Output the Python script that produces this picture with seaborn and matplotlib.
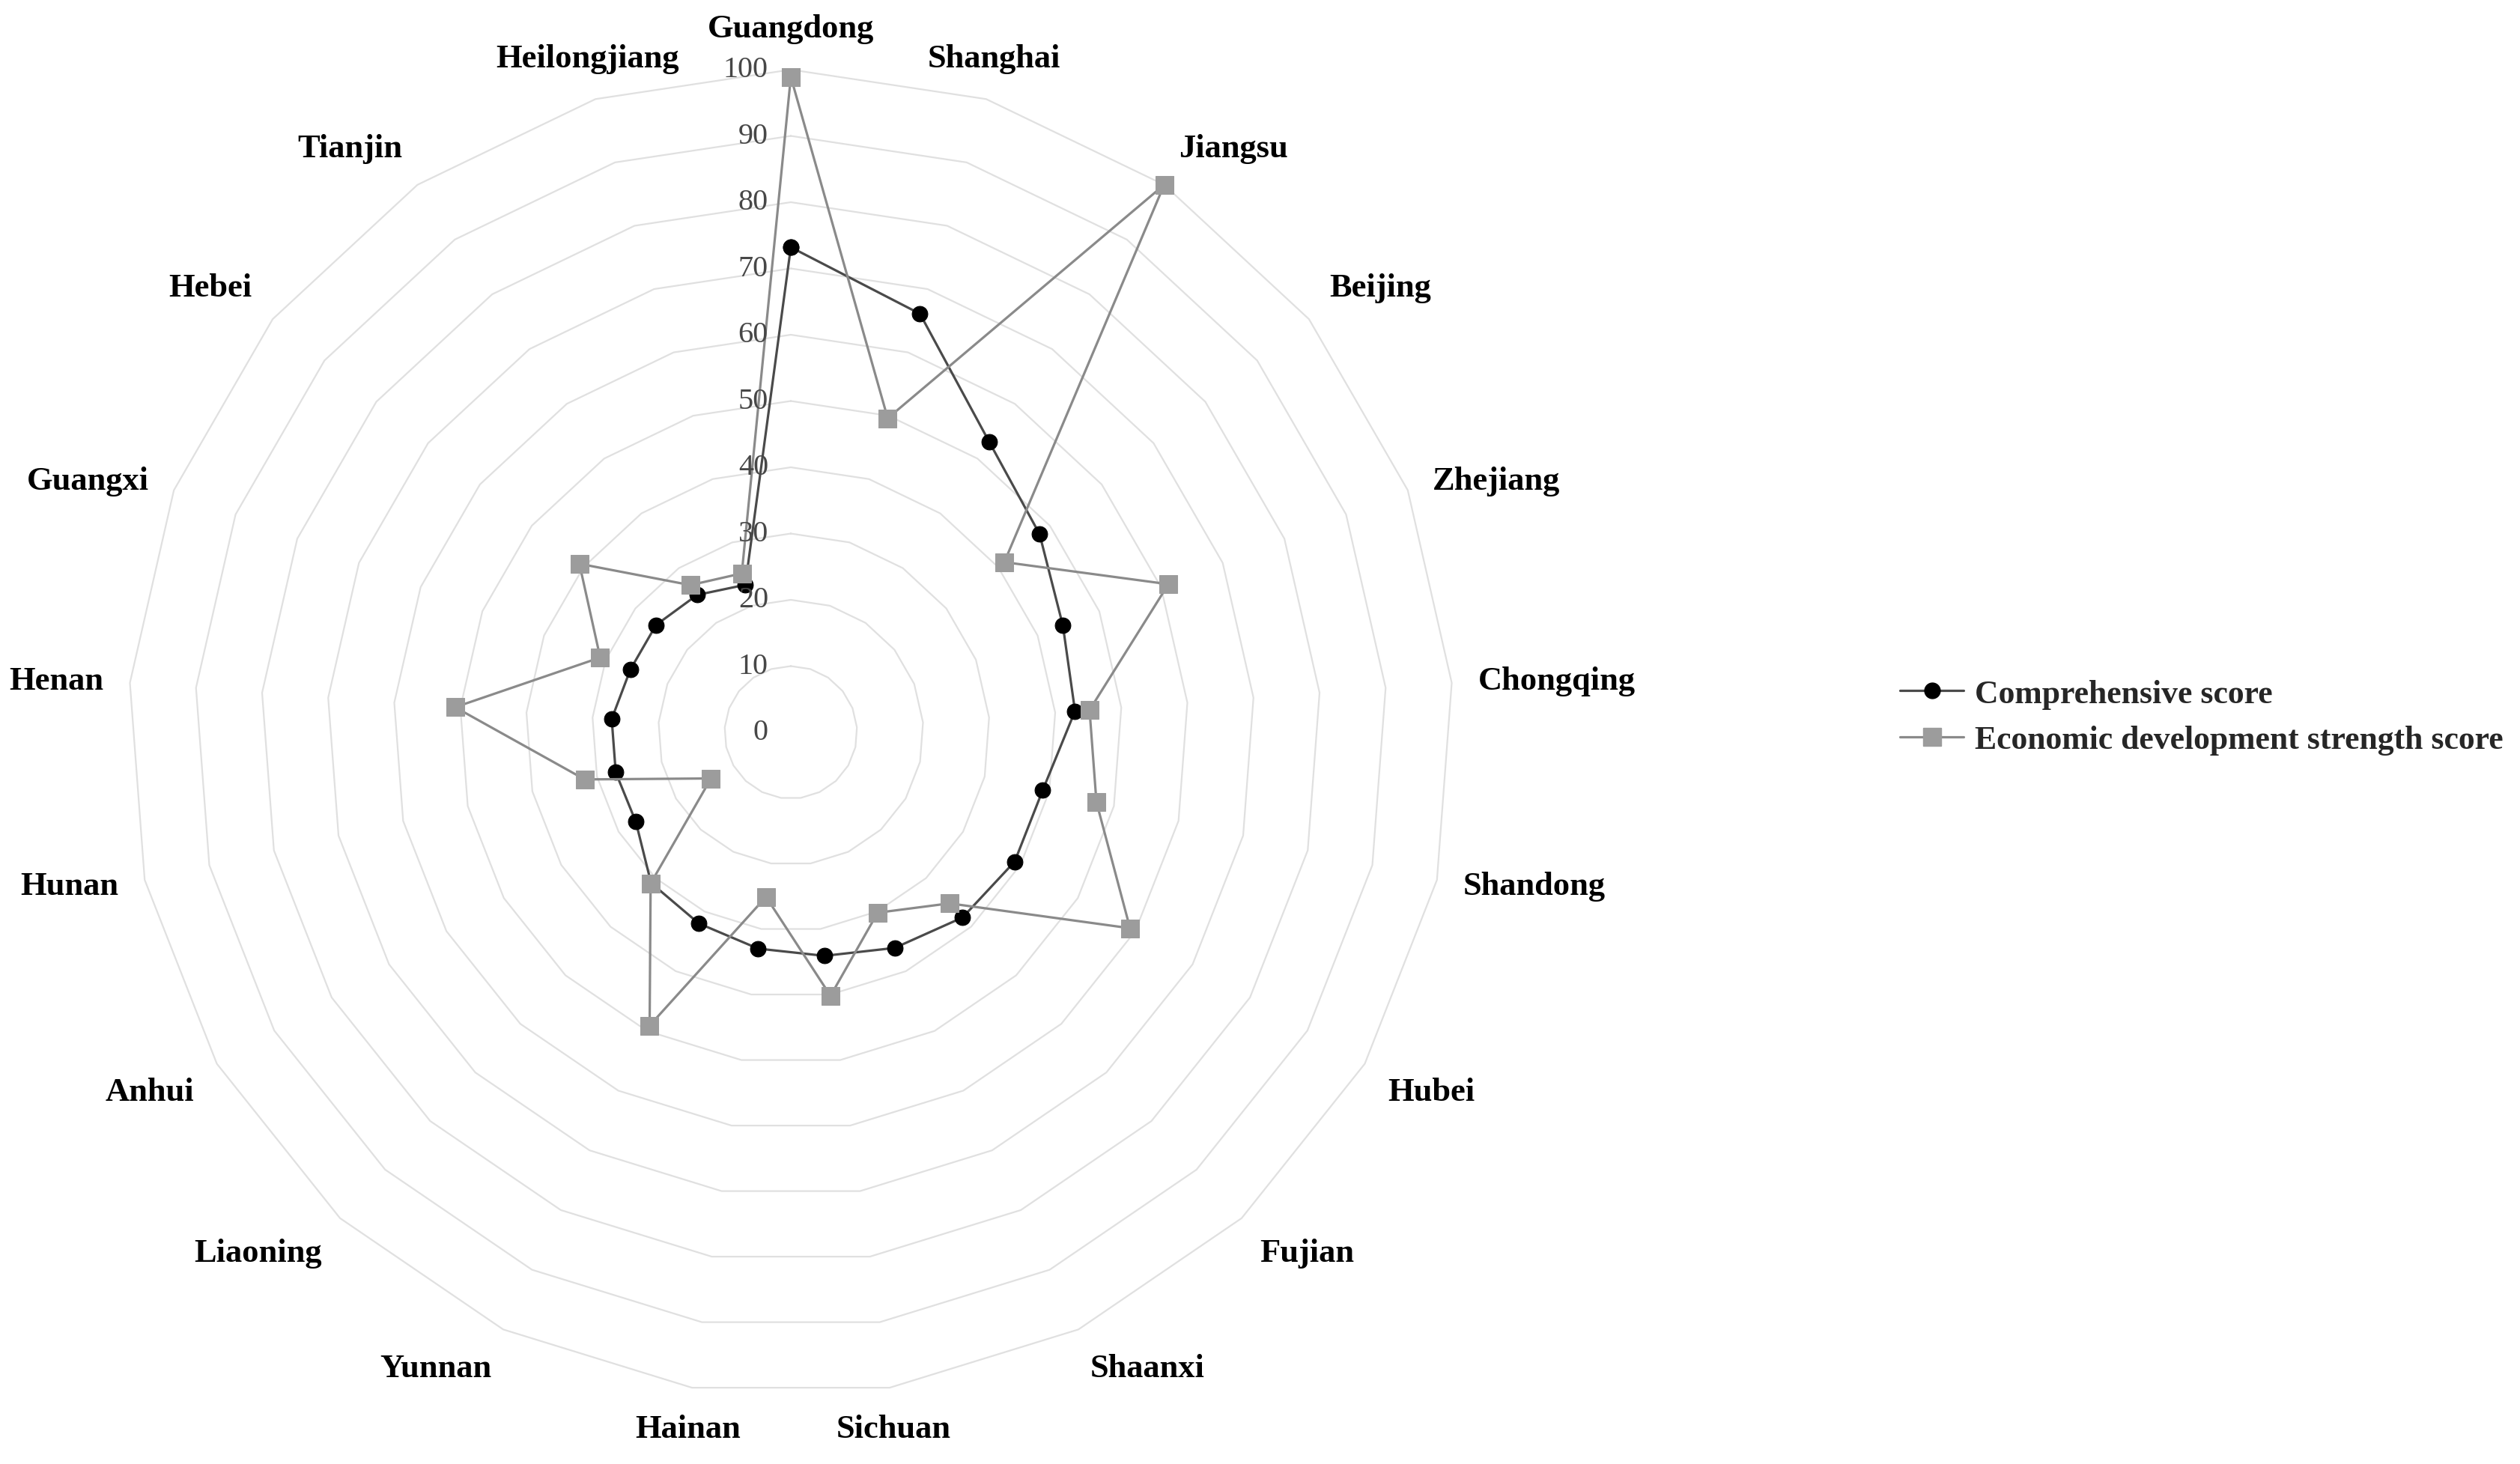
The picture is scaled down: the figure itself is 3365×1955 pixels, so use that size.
import numpy as np
import pandas as pd
import matplotlib
matplotlib.use("Agg")
import matplotlib.pyplot as plt
import matplotlib.transforms as mtransforms
from matplotlib.lines import Line2D
import seaborn as sns

# ---------------- data ----------------
categories = ["Guangdong", "Shanghai", "Jiangsu", "Beijing", "Zhejiang", "Chongqing",
              "Shandong", "Hubei", "Fujian", "Shaanxi", "Sichuan", "Hainan", "Yunnan",
              "Liaoning", "Anhui", "Hunan", "Henan", "Guangxi", "Hebei", "Tianjin",
              "Heilongjiang"]
comprehensive = [73.2, 66.1, 53.1, 48.0, 44.1, 43.0, 39.0, 39.0, 38.1, 36.1, 34.1,
                 33.0, 32.0, 31.0, 27.0, 27.1, 27.1, 26.0, 26.0, 25.1, 23.3]
economic = [98.9, 49.6, 100.0, 41.2, 61.2, 45.2, 47.3, 59.1, 35.2, 30.2, 40.2,
            25.1, 49.1, 31.1, 13.9, 31.9, 50.8, 30.9, 40.8, 26.9, 25.1]
ring_ticks = [0, 10, 20, 30, 40, 50, 60, 70, 80, 90, 100]
series_names = ["Comprehensive score", "Economic development strength score"]

# ---------------- style ----------------
sns.set_theme(style="white")
plt.rcParams["font.family"] = ["Liberation Serif", "DejaVu Serif"]

W, H = 3366, 1956
fig = plt.figure(figsize=(W / 100, H / 100), dpi=100)
cx, cy, R = 1056, 979, 885
ax = fig.add_axes([(cx - R) / W, (H - cy - R) / H, 2 * R / W, 2 * R / H],
                  projection="polar")
ax.set_theta_zero_location("N")
ax.set_theta_direction(-1)
ax.set_ylim(0, 100)
ax.set_axis_off()

n = len(categories)
theta = np.arange(n) * 2 * np.pi / n
theta_closed = np.append(theta, 2 * np.pi)

# polygon grid
for v in ring_ticks[1:]:
    ax.plot(theta_closed, [v] * (n + 1), color="#E0E0E0", lw=1.6, zorder=1,
            clip_on=False)

# series
df1 = pd.DataFrame({"theta": theta_closed, "value": comprehensive + comprehensive[:1]})
df2 = pd.DataFrame({"theta": theta_closed, "value": economic + economic[:1]})

sns.lineplot(data=df2, x="theta", y="value", ax=ax, sort=False, color="#8A8A8A",
             lw=2.3, marker="s", markersize=17, markerfacecolor="#9C9C9C",
             markeredgecolor="#9C9C9C", zorder=3, legend=False, clip_on=False)
sns.lineplot(data=df1, x="theta", y="value", ax=ax, sort=False, color="#4A4A4A",
             lw=2.3, marker="o", markersize=15, markerfacecolor="black",
             markeredgecolor="black", zorder=4, legend=False, clip_on=False)
# draw economic markers above comprehensive ones (as in the reference)
ax.lines[-2].set_zorder(5)
ax.set_xlabel("")
ax.set_ylabel("")

# radial tick labels
off = mtransforms.ScaledTranslation(-0.30, 0, fig.dpi_scale_trans)
for v in ring_ticks:
    ax.text(0, v, str(v), transform=ax.transData + off, ha="right", va="center",
            fontsize=29, color="#474747", zorder=6)

# category labels
for t, name in zip(theta, categories):
    s, c = np.sin(t), np.cos(t)
    ha = "center" if abs(s) < 0.4 else ("left" if s > 0 else "right")
    va = "center" if abs(c) < 0.45 else ("bottom" if c > 0 else "top")
    ax.text(t, 104, name, ha=ha, va=va, fontsize=32, fontweight="bold",
            color="black")

# legend
handles = [
    Line2D([], [], color="#4A4A4A", lw=2.3, marker="o", markersize=15,
           markerfacecolor="black", markeredgecolor="black"),
    Line2D([], [], color="#8A8A8A", lw=2.3, marker="s", markersize=17,
           markerfacecolor="#9C9C9C", markeredgecolor="#9C9C9C"),
]
fig.legend(handles, series_names, loc="center left",
           bbox_to_anchor=(2537 / W, 1 - 958.5 / H), frameon=False,
           borderpad=0, borderaxespad=0, handlelength=1.95, handletextpad=0.34,
           labelspacing=0.5, prop={"size": 31.5, "weight": "bold"})

fig.savefig("out.png", dpi=100, facecolor="white")
